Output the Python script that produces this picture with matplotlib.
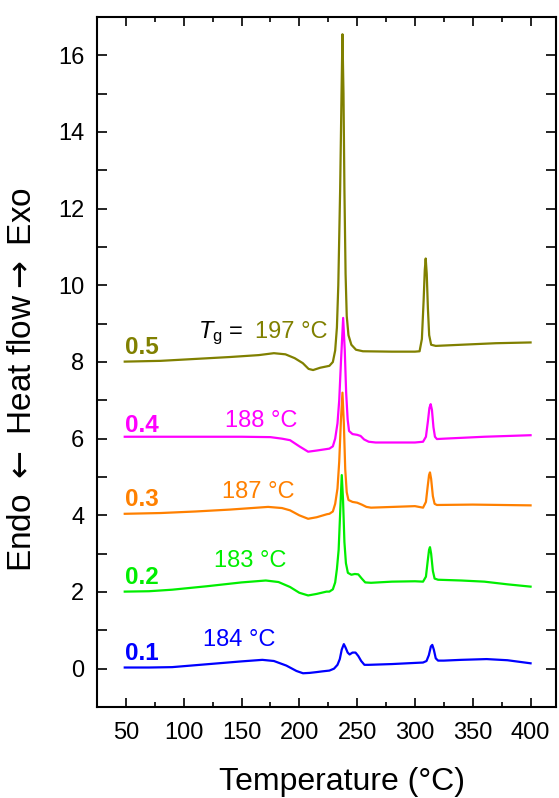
import matplotlib
matplotlib.use("Agg")
import matplotlib.pyplot as plt
from matplotlib.ticker import MultipleLocator

plt.rcParams['font.family'] = ['Liberation Sans', 'DejaVu Sans']
plt.rcParams['mathtext.fontset'] = 'custom'
plt.rcParams['mathtext.rm'] = 'Liberation Sans'
plt.rcParams['mathtext.it'] = 'Liberation Sans:italic'

# ---- data ----
T_01 = [49, 70, 90, 110, 134, 150, 168, 178, 188.8, 197.5, 203.2, 209, 214.8, 220, 226,
        230, 233, 235, 236.7, 238.5, 240, 241.8, 243.5, 246, 248.6, 251, 253.5, 256.3, 260,
        280, 300, 307, 310, 312, 313.8, 315, 316.3, 318, 320, 325, 340, 362, 380, 400]
y_01 = [0.03, 0.03, 0.04, 0.09, 0.15, 0.19, 0.23, 0.20, 0.08, -0.06, -0.12, -0.11, -0.09, -0.07, -0.05,
        0.0, 0.10, 0.25, 0.50, 0.64, 0.55, 0.42, 0.37, 0.42, 0.42, 0.33, 0.20, 0.10, 0.10,
        0.12, 0.15, 0.16, 0.20, 0.35, 0.58, 0.62, 0.50, 0.27, 0.21, 0.21, 0.23, 0.25, 0.22, 0.14]

T_02 = [49, 70, 90, 120, 150, 171, 182, 192, 200, 207.6, 215, 223.5,
        226, 229, 231, 232.5, 234, 235.5, 236.7, 237.8, 239, 240.3, 242, 245, 248, 251, 254, 257, 262,
        280, 300, 307, 309.5, 311, 312.2, 313, 314, 315.5, 317, 320, 340, 360, 380, 400]
y_02 = [2.01, 2.02, 2.06, 2.15, 2.25, 2.30, 2.26, 2.13, 1.98, 1.91, 1.95, 2.01,
        2.01, 2.07, 2.25, 2.60, 3.10, 4.20, 5.05, 4.40, 3.30, 2.75, 2.50, 2.45, 2.47, 2.46, 2.35, 2.25, 2.24,
        2.27, 2.28, 2.27, 2.40, 2.80, 3.10, 3.17, 3.00, 2.55, 2.35, 2.32, 2.30, 2.27, 2.20, 2.14]

T_03 = [49, 80, 110, 140, 173, 185, 192, 200, 207.6, 215, 224,
        226, 229, 231, 233, 234.5, 236, 237.3, 238.5, 239.7, 241, 242.5, 246, 250, 254, 258, 262,
        300, 307, 309.5, 311, 312.2, 313, 314, 315.5, 317, 319, 350, 400]
y_03 = [4.04, 4.06, 4.10, 4.15, 4.22, 4.19, 4.13, 4.00, 3.91, 3.95, 4.03,
        4.04, 4.10, 4.30, 4.70, 5.40, 6.50, 7.20, 6.40, 5.20, 4.60, 4.40, 4.35, 4.33, 4.28, 4.22, 4.20,
        4.24, 4.20, 4.35, 4.75, 5.05, 5.12, 4.95, 4.50, 4.30, 4.27, 4.28, 4.26]

T_04 = [49, 100, 150, 175, 185, 192, 200, 207.6, 215,
        226, 229, 231, 233, 234.5, 236, 237.9, 239.3, 240.5, 241.8, 243, 246, 250, 253, 256, 260, 266,
        300, 307, 309.5, 311.2, 312.5, 313.6, 314.7, 316, 317.3, 319, 325, 360, 400]
y_04 = [6.05, 6.05, 6.05, 6.04, 6.00, 5.96, 5.80, 5.66, 5.69,
        5.74, 5.80, 6.00, 6.40, 7.00, 8.00, 9.15, 8.30, 7.20, 6.50, 6.20, 6.12, 6.10, 6.07, 5.98, 5.92, 5.90,
        5.90, 5.92, 6.05, 6.45, 6.80, 6.90, 6.75, 6.30, 6.05, 5.99, 6.00, 6.05, 6.09]

T_05 = [49, 80, 110, 140, 165, 178, 188, 196, 203, 208, 211.9, 218,
        226, 229, 231, 232.5, 233.7, 235.3, 236.5, 237.3, 238.2, 239.0, 240.0, 241.0, 242.5, 245, 249, 255,
        280, 300, 304, 306, 307.5, 308.5, 309.3, 310.2, 311.2, 312.3, 314, 318, 340, 370, 400]
y_05 = [8.01, 8.03, 8.08, 8.13, 8.18, 8.23, 8.20, 8.10, 7.97, 7.82, 7.79, 7.85,
        7.90, 8.00, 8.30, 8.90, 10.0, 12.5, 15.0, 16.55, 15.0, 12.5, 10.3, 9.2, 8.7, 8.45, 8.32, 8.28,
        8.27, 8.27, 8.28, 8.60, 9.60, 10.4, 10.7, 10.3, 9.4, 8.7, 8.45, 8.42, 8.45, 8.49, 8.51]

series = [
    ("0.1", T_01, y_01, "#0000ff", "184 °C"),
    ("0.2", T_02, y_02, "#00ee00", "183 °C"),
    ("0.3", T_03, y_03, "#ff8000", "187 °C"),
    ("0.4", T_04, y_04, "#ff00ff", "188 °C"),
    ("0.5", T_05, y_05, "#808000", "197 °C"),
]
label_pos = [0.22, 2.22, 4.24, 6.18, 8.20]            # baseline of composition labels
tg_pos = [(117, 0.58), (126, 2.66), (133.5, 4.46), (135.5, 6.30), (161.5, 8.62)]

W, H = 559, 798
fig = plt.figure(figsize=(W / 100, H / 100), dpi=100)
ax = fig.add_axes([97 / W, 1 - 707 / H, (556 - 97) / W, (707 - 17) / H])

for (lab, T, y, c, tg), lp, (tx, ty) in zip(series, label_pos, tg_pos):
    ax.plot(T, y, color=c, lw=1.6)
    ax.text(49, lp, lab, color=c, fontsize=17.5, fontweight='bold', ha='left', va='baseline')
    ax.text(tx, ty, tg, color=c, fontsize=17, ha='left', va='baseline')
ax.text(151.5, 8.62, r"$T_{\mathrm{g}}$ =", color='black', fontsize=17, ha='right', va='baseline')

ax.set_xlim(25, 422)
ax.set_ylim(-1, 17)
ax.xaxis.set_major_locator(MultipleLocator(50))
ax.xaxis.set_minor_locator(MultipleLocator(25))
ax.yaxis.set_major_locator(MultipleLocator(2))
ax.yaxis.set_minor_locator(MultipleLocator(1))
ax.set_xticks(range(50, 401, 50))
ax.tick_params(which='both', direction='in', top=True, right=True, width=1.2, labelsize=17)
ax.tick_params(axis='x', which='major', length=6.5, pad=11)
ax.tick_params(axis='x', which='minor', length=3.5)
ax.tick_params(axis='y', which='both', length=7, pad=9)
for s in ax.spines.values():
    s.set_linewidth(1.5)

ax.set_xlabel("Temperature (°C)", fontsize=23, va='top')
ax.xaxis.set_label_coords((342 - 97) / 459, (707 - 767) / 690)
ax.set_ylabel(r"Endo $\leftarrow$ Heat flow$\rightarrow$ Exo", fontsize=24, va='center',
              math_fontfamily='dejavusans')
ax.yaxis.set_label_coords((23 - 97) / 459, (707 - 380) / 690)

fig.savefig("out.png", dpi=100)
